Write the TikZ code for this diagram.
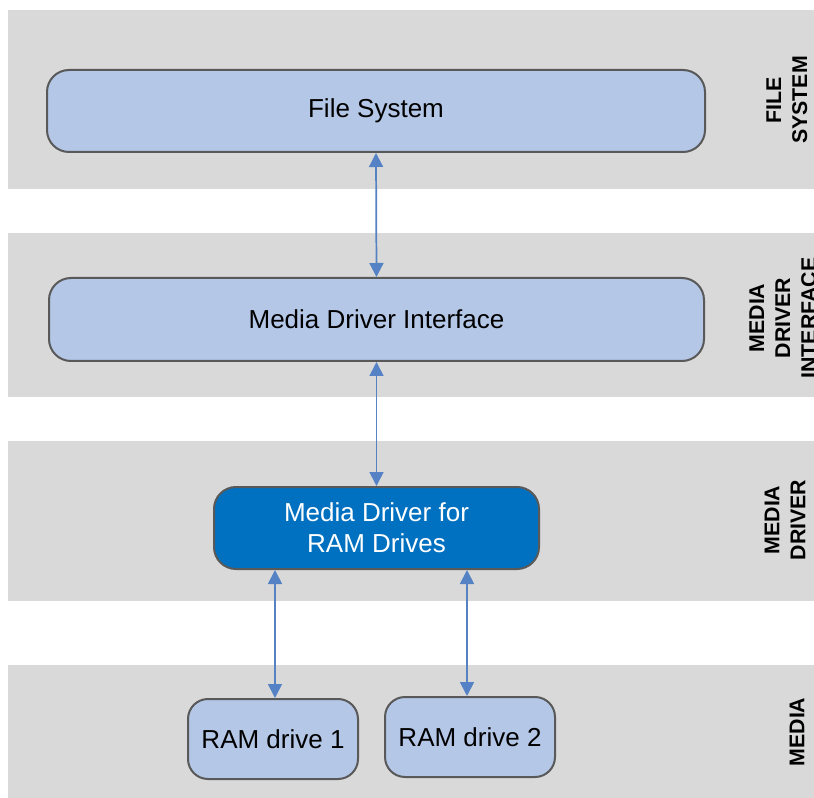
\documentclass[tikz,border=0pt]{standalone}
\usepackage{fontspec}
\setmainfont{Liberation Sans}
\definecolor{bandgray}{RGB}{217,217,217}
\definecolor{boxblue}{RGB}{180,199,231}
\definecolor{darkblue}{RGB}{0,112,192}
\definecolor{edgegray}{RGB}{89,89,89}
\definecolor{arrowblue}{RGB}{84,130,196}
\usetikzlibrary{arrows.meta}

\begin{document}
\begin{tikzpicture}[x=0.75pt, y=-0.75pt,
    band/.style={fill=bandgray, draw=none},
    layerbox/.style={draw=edgegray, line width=1.5pt, fill=boxblue, rounded corners=16.5pt,
        inner sep=0pt, align=center, font=\fontsize{19.5}{23}\selectfont},
    drivebox/.style={layerbox, fill=darkblue, text=white},
    mediabox/.style={layerbox, rounded corners=15pt, minimum width=127.5pt, minimum height=60pt},
    layertag/.style={rotate=90, align=center, font=\fontsize{16}{19.5}\selectfont\bfseries},
    link/.style={draw=arrowblue, line width=1.3pt, {Triangle[length=10.5pt,width=10.5pt]}-{Triangle[length=10.5pt,width=10.5pt]}, fill=arrowblue}]
    \useasboundingbox (0,0) rectangle (814,798);

    % Franjas de fondo
    \fill[band] (8,10) rectangle (830,189);
    \fill[band] (8,233) rectangle (830,397);
    \fill[band] (8,441) rectangle (830,601);
    \fill[band] (8,665) rectangle (830,810);

    % Cajas
    \node[layerbox, minimum width=493.5pt, minimum height=61.5pt] (fs) at (376,111) {File System};
    \node[layerbox, minimum width=491.25pt, minimum height=62.25pt] (mdi) at (376.5,319.5) {Media Driver Interface};
    \node[drivebox, minimum width=243.75pt, minimum height=61.5pt] (mdram) at (376.5,528) {Media Driver for\\RAM Drives};
    \node[mediabox] (ram1) at (273,739) {RAM drive 1};
    \node[mediabox] (ram2) at (470,737) {RAM drive 2};

    % Flechas
    \draw[link] (fs.south) -- (mdi.north);
    \draw[link] (mdi.south) -- (mdram.north);
    \draw[link] (ram1.north -| 275,0) -- (mdram.south -| 275,0);
    \draw[link] (ram2.north -| 467,0) -- (mdram.south -| 467,0);

    % Etiquetas de capa
    \node[layertag] (tfs) at (787,100) {FILE\\SYSTEM};
    \node[layertag] (tmdi) at (783,318) {MEDIA\\DRIVER\\INTERFACE};
    \node[layertag] (tmd) at (785,520) {MEDIA\\DRIVER};
    \node[layertag] (tm) at (797,732) {MEDIA};
\end{tikzpicture}
\end{document}
